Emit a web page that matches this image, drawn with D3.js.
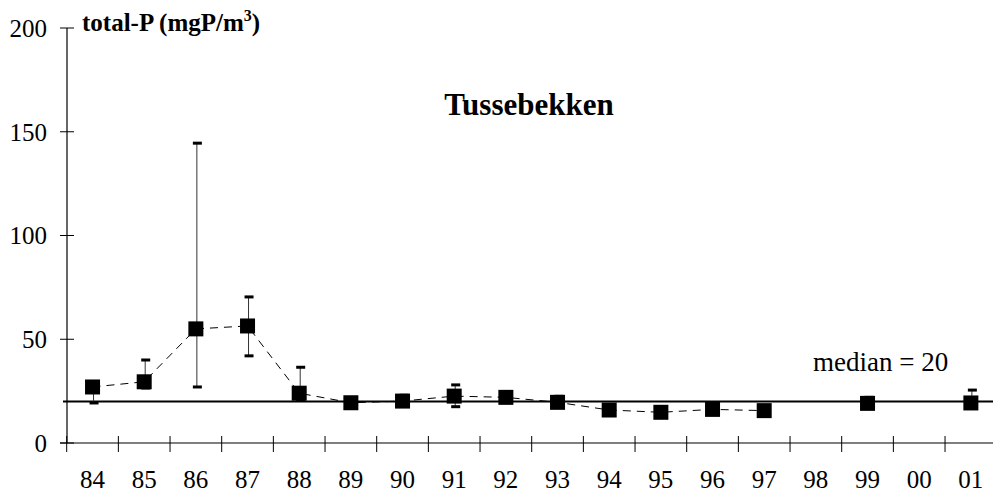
<!DOCTYPE html>
<html>
<head>
<meta charset="utf-8">
<script src="https://cdn.jsdelivr.net/npm/d3@7/dist/d3.min.js"></script>
<style>
  html, body { margin: 0; padding: 0; background: #fff; }
  svg { display: block; }
  text { font-family: "Liberation Serif", "Times New Roman", serif; fill: #000; }
</style>
</head>
<body>
<script>
// ---- data ----
const years = ["84","85","86","87","88","89","90","91","92","93","94","95","96","97","98","99","00","01"];
const meanValues = [27, 29.5, 55, 56.4, 24, 19.4, 20.2, 22.6, 22, 19.6, 15.9, 14.8, 16.2, 15.6, null, 19.1, null, 19.3];
const maxValues  = [29.5, 40, 144.5, 70.4, 36.5, 21.5, 23, 28, 23, 22.5, 17, 15.5, 17.5, 18, null, 22, null, 25.5];
const minValues  = [19.3, 26.5, 27, 42, 21, 18, 18.5, 17.5, 21, 18, 15, 14, 15, 13, null, 17, null, 18.5];
const yTicks = [0, 50, 100, 150, 200];
const medianValue = 20;
const chartTitle = "Tussebekken";

// ---- layout ----
const W = 993, H = 495;
const svg = d3.select("body").append("svg").attr("width", W).attr("height", H);

const x = d3.scaleBand().domain(years).range([66.7, 996.7]).paddingInner(0).paddingOuter(0);
const y = d3.scaleLinear().domain([0, 200]).range([443, 28]);

// y axis
const yAxisG = svg.append("g").attr("transform", "translate(67,0)");
yAxisG.append("line").attr("x1", 0).attr("x2", 0).attr("y1", y(200)).attr("y2", y(0))
  .attr("stroke", "#000").attr("stroke-width", 1.2);
yAxisG.selectAll("line.tk").data(yTicks).enter().append("line").attr("class", "tk")
  .attr("x1", -7).attr("x2", 7).attr("y1", d => y(d)).attr("y2", d => y(d))
  .attr("stroke", "#000").attr("stroke-width", 1);
yAxisG.selectAll("text").data(yTicks).enter().append("text")
  .attr("x", -20).attr("y", d => y(d)).attr("dy", "0.35em")
  .attr("text-anchor", "end").attr("font-size", 25).text(d => d);

// x axis
const xAxisG = svg.append("g");
xAxisG.append("line").attr("x1", 60).attr("x2", W).attr("y1", y(0)).attr("y2", y(0))
  .attr("stroke", "#000").attr("stroke-width", 1.2);
const bounds = years.map(d => x(d));
xAxisG.selectAll("line.tk").data(bounds).enter().append("line").attr("class", "tk")
  .attr("x1", d => d).attr("x2", d => d).attr("y1", y(0) - 7).attr("y2", y(0) + 9)
  .attr("stroke", "#000").attr("stroke-width", 1);
xAxisG.selectAll("text").data(years).enter().append("text")
  .attr("x", d => x(d) + x.bandwidth() / 2).attr("y", 488)
  .attr("text-anchor", "middle").attr("font-size", 25).text(d => d);

// median line
svg.append("line").attr("x1", 63).attr("x2", W).attr("y1", y(medianValue)).attr("y2", y(medianValue))
  .attr("stroke", "#000").attr("stroke-width", 2);

const pts = years.map((yr, i) => ({ yr, m: meanValues[i], hi: maxValues[i], lo: minValues[i] }));
const cx = d => x(d.yr) + x.bandwidth() / 2;

// dashed connecting line
const line = d3.line().defined(d => d.m !== null).x(cx).y(d => y(d.m));
svg.append("path").datum(pts).attr("d", line).attr("fill", "none")
  .attr("stroke", "#000").attr("stroke-width", 1).attr("stroke-dasharray", "8,6");

// error bars
const valid = pts.filter(d => d.m !== null);
svg.selectAll("line.err").data(valid).enter().append("line").attr("class", "err")
  .attr("x1", d => cx(d) + 1).attr("x2", d => cx(d) + 1)
  .attr("y1", d => y(d.hi)).attr("y2", d => y(d.lo))
  .attr("stroke", "#333").attr("stroke-width", 1);
svg.selectAll("rect.caphi").data(valid).enter().append("rect").attr("class", "caphi")
  .attr("x", d => cx(d) - 3).attr("y", d => y(d.hi) - 1.5).attr("width", 9).attr("height", 3).attr("fill", "#000");
svg.selectAll("rect.caplo").data(valid).enter().append("rect").attr("class", "caplo")
  .attr("x", d => cx(d) - 3).attr("y", d => y(d.lo) - 1.5).attr("width", 9).attr("height", 3).attr("fill", "#000");

// markers
const ms = 15;
svg.selectAll("rect.mk").data(valid).enter().append("rect").attr("class", "mk")
  .attr("x", d => cx(d) - ms / 2).attr("y", d => y(d.m) - ms / 2)
  .attr("width", ms).attr("height", ms).attr("fill", "#000");

// texts
const yl = svg.append("text").attr("x", 82).attr("y", 31).attr("font-size", 25).attr("font-weight", "bold");
yl.append("tspan").text("total-P (mgP/m");
yl.append("tspan").attr("font-size", 16).attr("dy", -10).text("3");
yl.append("tspan").attr("dy", 10).text(")");

svg.append("text").attr("x", 529).attr("y", 115).attr("text-anchor", "middle")
  .attr("font-size", 31).attr("font-weight", "bold").text(chartTitle);

svg.append("text").attr("x", 813).attr("y", 371).attr("font-size", 27).text("median = " + medianValue);
</script>
</body>
</html>
